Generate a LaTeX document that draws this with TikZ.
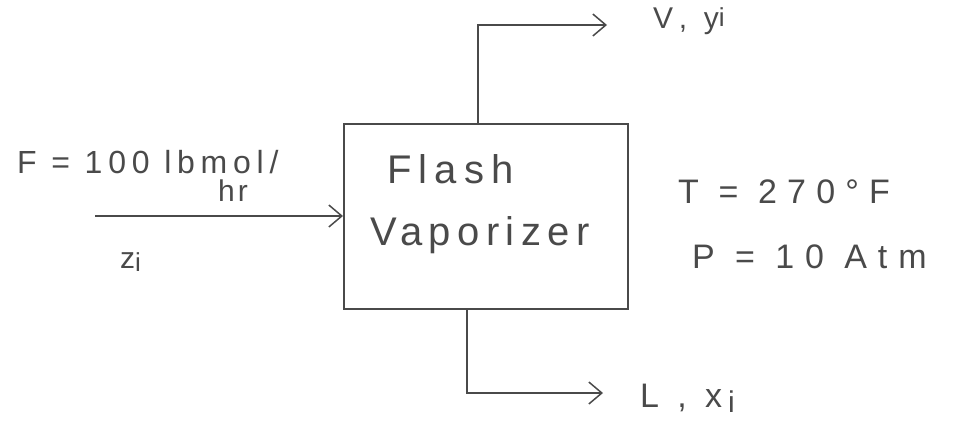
\documentclass[tikz,border=0pt]{standalone}
\usepackage{fontspec}
\setmainfont{Liberation Sans}
\newfontfamily\hand{Liberation Sans}
\usetikzlibrary{arrows.meta}
\definecolor{pencil}{HTML}{4A4A4A}
% size and letter spacing for hand-lettered labels
\newcommand{\fs}[2][18]{\fontsize{#2}{#2}\selectfont\addfontfeature{LetterSpace=#1}}
\begin{document}
\begin{tikzpicture}[x=1pt,y=-1pt,
  pipe/.style={draw=pencil, line width=1.5pt},
  flow/.style={pipe, -{Straight Barb[length=13pt,width=22pt,line width=1.5pt]}},
  lbl/.style={text=pencil, inner sep=0pt, anchor=base west, font=\hand}]
  \useasboundingbox (0,0) rectangle (955,424);

  % vessel
  \node[pipe, minimum width=284pt, minimum height=185pt, inner sep=0pt,
        anchor=north west] (box) at (343,123) {};
  \node[lbl] (flash) at (387,183) {\fs[18]{40}Flash};
  \node[lbl] (vap) at (370,245) {\fs[16]{40}Vaporizer};

  % feed stream
  \coordinate (fin) at (95,216);
  \draw[flow] (fin) -- (box.west |- fin);
  \node[lbl] (feed) at (17,173) {\fs[18]{32}F = 100 lbmol/};
  \node[lbl] (hr) at (218,201) {\fs[10]{30}hr};
  \node[lbl] (z) at (120,268) {\fs[20]{30}z\raisebox{-0.1em}{\fs{26}i}};

  % vapour outlet
  \coordinate (vbend) at (478,25);
  \coordinate (vtip) at (607,25);
  \draw[flow] (box.north -| vbend) -- (vbend) -- (vtip);
  \node[lbl] (vy) at (653,28) {\fs[28]{30}V, y\raisebox{0.05em}{\fs{26}i}};

  % liquid outlet
  \coordinate (lbend) at (467,393);
  \coordinate (ltip) at (603,393);
  \draw[flow] (box.south -| lbend) -- (lbend) -- (ltip);
  \node[lbl] (lx) at (640,407) {\fs[26]{34}L , x\hspace{6pt}\raisebox{-0.15em}{\fs{30}i}};

  % operating conditions
  \node[lbl] (temp) at (678,203) {\fs[30]{34}T = 270°F};
  \node[lbl] (pres) at (692,268) {\fs[32]{34}P = 10 Atm};
\end{tikzpicture}
\end{document}
